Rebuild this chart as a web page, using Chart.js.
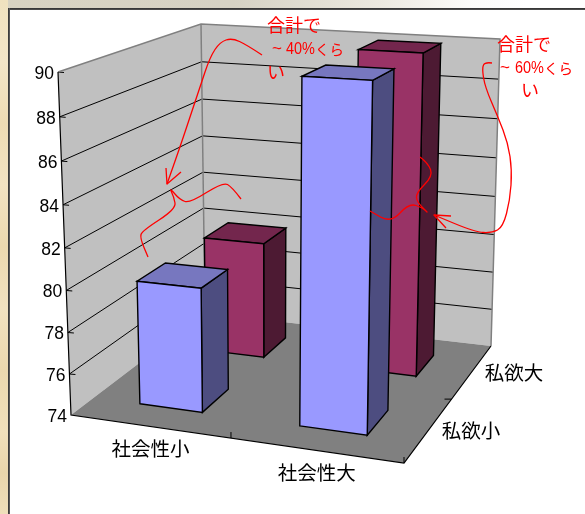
<!DOCTYPE html>
<html>
<head>
<meta charset="utf-8">
<script src="https://cdn.jsdelivr.net/npm/chart.js@4"></script>
<style>
html, body { margin: 0; padding: 0; background: #fff; }
#page { position: relative; width: 585px; height: 514px; overflow: hidden; background: #fff; }
#topStrip { position: absolute; left: 0; top: 0; width: 585px; height: 8px;
    background: linear-gradient(to right, #d8d3c2 0%, #d6d2c4 40%, #ece9e0 65%, #fbfbf9 80%, #fff 90%); }
#leftStrip { position: absolute; left: 0; top: 0; width: 8px; height: 514px;
    background: linear-gradient(to bottom, #f0e2bf 0%, #f3e6c8 12%, #eedcb4 24%, #f2e3c2 36%, #ecd9af 48%, #f1e2c0 60%, #ebd8ae 72%, #f0e0bb 84%, #e9d6ab 92%, #efdfba 100%); }
#lineTop { position: absolute; left: 8px; top: 8px; width: 577px; height: 2px; background: linear-gradient(to bottom, #2e2e2e, #555); }
#lineLeft { position: absolute; left: 8px; top: 8px; width: 2px; height: 506px; background: linear-gradient(to right, #2e2e2e, #666); }
canvas { position: absolute; left: 0; top: 0; }
</style>
</head>
<body>
<div id="page">
    <div id="topStrip"></div>
    <div id="leftStrip"></div>
    <div id="lineTop"></div>
    <div id="lineLeft"></div>
    <canvas id="chart" width="585" height="514"></canvas>
</div>
<script>
const categories = ['社会性小', '社会性大'];
const depthLabels = ['私欲小', '私欲大'];
const lowDesire = [80, 90];
const highDesire = [80, 90];
const yTickLabels = ['74', '76', '78', '80', '82', '84', '86', '88', '90'];
const yMin = 74;
const yMax = 90;

// box corners on screen: front-left, front-right, back-right, back-left
const floorCorners = [[71, 415], [404, 463], [491, 346], [205, 313]];
const roofCorners = [[58, 72], [411, 93], [500, 39], [201, 24]];
const perspective = 0.95;

const fontCjk = '"Noto Sans CJK JP", sans-serif';
const depthColors = [
    { front: '#9999ff', side: '#4d4d80', top: '#7777bf' },
    { front: '#993366', side: '#4d1a33', top: '#73264d' }
];

// Map unit square to a quad on screen
function quadMap(q) {
    const [p0, p1, p2, p3] = q;
    const sx = p0[0] - p1[0] + p2[0] - p3[0];
    const sy = p0[1] - p1[1] + p2[1] - p3[1];
    const dx1 = p1[0] - p2[0], dx2 = p3[0] - p2[0];
    const dy1 = p1[1] - p2[1], dy2 = p3[1] - p2[1];
    const den = dx1 * dy2 - dx2 * dy1;
    const g = (sx * dy2 - dx2 * sy) / den;
    const h = (dx1 * sy - sx * dy1) / den;
    const a = p1[0] - p0[0] + g * p1[0], b = p3[0] - p0[0] + h * p3[0];
    const d = p1[1] - p0[1] + g * p1[1], e = p3[1] - p0[1] + h * p3[1];
    return (u, v) => {
        const k = 1 + g * u + h * v;
        return [(a * u + b * v + p0[0]) / k, (d * u + e * v + p0[1]) / k];
    };
}

const floorMap = quadMap(floorCorners);
const roofMap = quadMap(roofCorners);

// u across categories, v into the depth, w up the value axis, all 0..1
function project(u, v, w) {
    const t = w * perspective / (1 + w * (perspective - 1));
    const f = floorMap(u, v), r = roofMap(u, v);
    return [f[0] + (r[0] - f[0]) * t, f[1] + (r[1] - f[1]) * t];
}

function poly(ctx, pts, fill, stroke, width) {
    ctx.beginPath();
    pts.forEach((p, i) => i ? ctx.lineTo(p[0], p[1]) : ctx.moveTo(p[0], p[1]));
    if (fill) {
        ctx.closePath();
        ctx.fillStyle = fill;
        ctx.fill();
    }
    if (stroke) {
        ctx.strokeStyle = stroke;
        ctx.lineWidth = width;
        ctx.stroke();
    }
}

function drawWalls(chart, ctx) {
    const yScale = chart.scales.y, area = chart.chartArea;
    poly(ctx, [project(0, 1, 0), project(1, 1, 0), project(1, 1, 1), project(0, 1, 1)], '#c0c0c0');
    poly(ctx, [project(0, 0, 0), project(0, 1, 0), project(0, 1, 1), project(0, 0, 1)], '#c0c0c0');
    poly(ctx, [project(0, 0, 0), project(1, 0, 0), project(1, 1, 0), project(0, 1, 0)], '#808080');

    // gridlines and value labels
    yScale.ticks.forEach((tick, i) => {
        const w = (area.bottom - yScale.getPixelForValue(tick.value)) / area.height;
        const p = project(0, 0, w);
        if (i > 0 && i < yScale.ticks.length - 1) {
            poly(ctx, [p, project(0, 1, w), project(1, 1, w)], null, '#000', 1);
        }
        if (i > 0) poly(ctx, [p, [p[0] + 6, p[1] + 0.5]], null, '#000', 1);
        ctx.fillStyle = '#000';
        ctx.font = '17.5px "Liberation Sans", Arial, sans-serif';
        ctx.textAlign = 'right';
        ctx.textBaseline = 'middle';
        ctx.fillText(yTickLabels[i], p[0] - 4, p[1] + 2);
    });

    // wall edges
    poly(ctx, [project(0, 0, 1), project(0, 1, 1), project(1, 1, 1), project(1, 1, 0)], null, '#808080', 1.5);
    poly(ctx, [project(0, 1, 1), project(0, 1, 0)], null, '#808080', 1.5);
    poly(ctx, [project(0, 0, 1), project(0, 0, 0), project(1, 0, 0), project(1, 1, 0)], null, '#000', 1.2);

    // floor ticks
    const m1 = project(0.5, 0, 0), m2 = project(1, 0.5, 0), c = project(1, 0, 0);
    poly(ctx, [m1, [m1[0], m1[1] - 6]], null, '#000', 1);
    poly(ctx, [c, [c[0], c[1] - 6]], null, '#000', 1);
    poly(ctx, [m2, [m2[0] - 7, m2[1]]], null, '#000', 1);
}

function drawBar(ctx, u0, u1, v0, v1, w0, w1, colors) {
    const f0 = project(u0, v0, w0), f1 = project(u1, v0, w0);
    const f2 = project(u1, v0, w1), f3 = project(u0, v0, w1);
    const b1 = project(u1, v1, w0), b2 = project(u1, v1, w1), b3 = project(u0, v1, w1);
    poly(ctx, [f1, b1, b2, f2, f1], colors.side, '#000', 1.4);
    poly(ctx, [f3, f2, b2, b3, f3], colors.top, '#000', 1.4);
    poly(ctx, [f0, f1, f2, f3, f0], colors.front, '#000', 1.4);
}

function drawLabels(chart, ctx) {
    const xScale = chart.scales.x, depth = chart.scales.depth, area = chart.chartArea;
    ctx.fillStyle = '#000';
    ctx.font = '19.5px ' + fontCjk;
    ctx.textAlign = 'center';
    ctx.textBaseline = 'middle';
    categories.forEach((name, i) => {
        const p = project((xScale.getPixelForValue(i) - area.left) / area.width, 0, 0);
        ctx.fillText(name, p[0] + 1, p[1] + 22);
    });
    depthLabels.forEach((name, i) => {
        const p = project(1, (depth.getPixelForValue(i) - area.left) / area.width, 0);
        ctx.fillText(name, p[0] + 42, p[1] + 1);
    });
}

// Hand-written notes on top of the chart
const noteStrokes = [
    [[262, 55], [247, 45], [232, 38], [220, 42], [210, 57], [200, 87], [190, 117], [180, 147], [167, 184]],
    [[166, 168], [167, 184], [181, 172]],
    [[241, 199], [232, 187], [223, 182], [190, 203], [180, 200], [169, 187], [174, 197], [176, 209], [142, 231], [140, 238], [148, 257]],
    [[492, 63], [485, 62], [482, 68], [485, 87], [498, 117], [508, 143], [512, 170], [510, 200], [503, 227], [492, 233], [475, 232], [434, 215]],
    [[451, 216], [434, 215], [446, 228]],
    [[420, 157], [428, 163], [433, 176], [416, 193], [417, 202], [429, 214], [423, 208], [409, 203], [391, 223], [370, 211]]
];

function noteText(ctx, jp, x, y) {
    ctx.font = '18px ' + fontCjk;
    ctx.fillText(jp, x, y);
}

function noteAmount(ctx, amount, xTilde, xAmount, xKana, y) {
    ctx.font = '17px "Liberation Sans", sans-serif';
    ctx.fillText('~', xTilde, y);
    // digits in the note are condensed
    ctx.save();
    ctx.translate(xAmount, y);
    ctx.scale(0.85, 1);
    ctx.fillText(amount, 0, 0);
    ctx.restore();
    ctx.font = '14.5px ' + fontCjk;
    ctx.fillText('くら', xKana, y);
}

function drawNotes(ctx) {
    ctx.strokeStyle = '#ff0000';
    ctx.lineWidth = 1.3;
    ctx.lineJoin = 'round';
    noteStrokes.forEach(s => {
        ctx.beginPath();
        ctx.moveTo(s[0][0], s[0][1]);
        if (s.length === 3) {
            ctx.lineTo(s[1][0], s[1][1]);
            ctx.lineTo(s[2][0], s[2][1]);
        } else {
            for (let i = 1; i < s.length - 1; i++) {
                const mx = (s[i][0] + s[i + 1][0]) / 2, my = (s[i][1] + s[i + 1][1]) / 2;
                ctx.quadraticCurveTo(s[i][0], s[i][1], mx, my);
            }
            ctx.lineTo(s[s.length - 1][0], s[s.length - 1][1]);
        }
        ctx.stroke();
    });

    ctx.fillStyle = '#ff0000';
    ctx.textAlign = 'left';
    ctx.textBaseline = 'middle';
    noteText(ctx, '合計で', 267, 25);
    noteAmount(ctx, '40%', 272, 286, 315, 49);
    noteText(ctx, 'い', 267, 72);
    noteText(ctx, '合計で', 497, 44);
    noteAmount(ctx, '60%', 500, 515, 544, 68);
    noteText(ctx, 'い', 521, 90);
}

const box3d = {
    id: 'box3d',
    afterDatasetsDraw(chart) {
        const ctx = chart.ctx, area = chart.chartArea, depth = chart.scales.depth;
        ctx.save();
        drawWalls(chart, ctx);
        // back row first so the front row covers it
        [1, 0].forEach(d => {
            chart.getDatasetMeta(d).data.forEach(bar => {
                const half = bar.width / 2 / area.width;
                const u = (bar.x - area.left) / area.width;
                const v = (depth.getPixelForValue(d) - area.left) / area.width;
                const w0 = (area.bottom - bar.base) / area.height;
                const w1 = (area.bottom - bar.y) / area.height;
                drawBar(ctx, u - half, u + half, v - half, v + half, w0, w1, depthColors[d]);
            });
        });
        drawLabels(chart, ctx);
        drawNotes(ctx);
        ctx.restore();
    }
};

new Chart(document.getElementById('chart'), {
    type: 'bar',
    data: {
        labels: categories,
        datasets: [
            { label: depthLabels[0], data: lowDesire, base: yMin, backgroundColor: 'transparent', grouped: false },
            { label: depthLabels[1], data: highDesire, base: yMin, backgroundColor: 'transparent', grouped: false }
        ]
    },
    options: {
        responsive: false,
        animation: false,
        categoryPercentage: 0.4,
        barPercentage: 1,
        layout: { padding: 0 },
        plugins: { legend: { display: false }, tooltip: { enabled: false } },
        scales: {
            x: { display: false, offset: true },
            depth: { type: 'category', axis: 'x', labels: depthLabels, offset: true, display: false },
            y: { display: false, min: yMin, max: yMax, ticks: { stepSize: 2 } }
        }
    },
    plugins: [box3d]
});
</script>
</body>
</html>
